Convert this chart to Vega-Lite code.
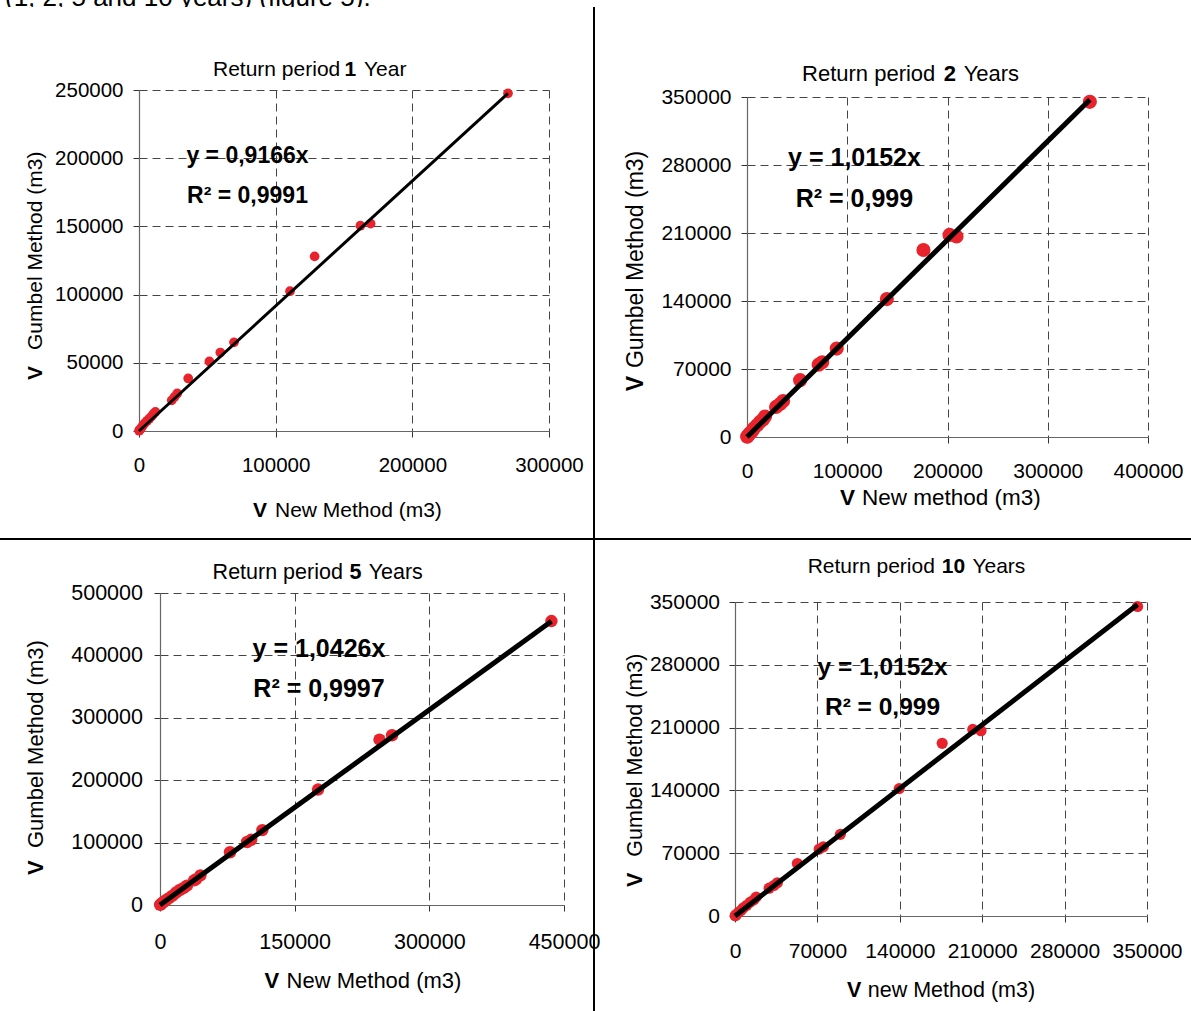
{
  "$schema": "https://vega.github.io/schema/vega-lite/v6.json",
  "padding": 0,
  "background": "white",
  "config": {
    "view": {"stroke": null},
    "font": "Liberation Sans",
    "axis": {"labelFont": "Liberation Sans", "labelColor": "#000", "tickColor": "#333", "tickWidth": 1, "domainColor": "#666", "domainWidth": 1.2, "gridColor": "#444", "gridDash": [8, 5], "gridWidth": 1, "labelFlush": false, "labelOverlap": false, "grid": true, "tickSize": 6}
  },
  "datasets": {
    "p1": [{"x":270000,"y":247500},{"x":169500,"y":152000},{"x":162000,"y":150500},{"x":128500,"y":128000},{"x":110500,"y":102500},{"x":69500,"y":65000},{"x":59500,"y":57500},{"x":51500,"y":51000},{"x":36000,"y":38500},{"x":28000,"y":27500},{"x":26000,"y":25000},{"x":24000,"y":22500},{"x":12000,"y":14000},{"x":10500,"y":12500},{"x":9000,"y":10500},{"x":7500,"y":9000},{"x":6000,"y":7500},{"x":4000,"y":5500},{"x":2500,"y":3500},{"x":1500,"y":2000},{"x":800,"y":1000},{"x":300,"y":500},{"x":100,"y":200}],
    "p2": [{"x":342000,"y":345000},{"x":209000,"y":206500},{"x":202000,"y":208000},{"x":176000,"y":192500},{"x":139500,"y":142000},{"x":89500,"y":91000},{"x":75000,"y":77000},{"x":71500,"y":74500},{"x":53000,"y":58500},{"x":36000,"y":37000},{"x":33000,"y":34000},{"x":29000,"y":31000},{"x":18000,"y":21000},{"x":16000,"y":18000},{"x":13000,"y":15500},{"x":10000,"y":12000},{"x":7000,"y":9000},{"x":5000,"y":6000},{"x":3000,"y":4000},{"x":1500,"y":2000},{"x":500,"y":800},{"x":200,"y":300}],
    "p3": [{"x":436000,"y":455000},{"x":258500,"y":272000},{"x":244500,"y":265000},{"x":176000,"y":185000},{"x":114000,"y":120000},{"x":101500,"y":104500},{"x":97000,"y":101000},{"x":78000,"y":84500},{"x":45000,"y":47500},{"x":40000,"y":41000},{"x":38000,"y":39500},{"x":30000,"y":31000},{"x":26000,"y":27000},{"x":22000,"y":24000},{"x":18000,"y":20000},{"x":14000,"y":15000},{"x":10000,"y":11000},{"x":7000,"y":8000},{"x":4000,"y":5000},{"x":2000,"y":2500},{"x":800,"y":1000},{"x":200,"y":300}]
  },
  "spacing": 0,
  "bounds": "flush",
  "vconcat": [
    {
      "width": 1191, "height": 7,
      "data": {"values": [{"t": "(1, 2, 5 and 10 years) (figure 5)."}]},
      "mark": {"type": "text", "clip": true, "align": "left", "baseline": "alphabetic", "fontSize": 26},
      "encoding": {
        "text": {"field": "t"},
        "x": {"datum": 5, "type": "quantitative", "scale": {"domain": [0, 1191], "nice": false}, "axis": null},
        "y": {"datum": 1, "type": "quantitative", "scale": {"domain": [0, 7], "nice": false}, "axis": null}
      }
    },
    {
      "spacing": 0, "bounds": "flush",
      "vconcat": [
        {"width": 1, "height": 83, "data": {"values": []}, "mark": {"type": "point", "opacity": 0}},
        {
          "spacing": 0, "bounds": "flush",
          "hconcat": [
            {"width": 139, "height": 1, "data": {"values": []}, "mark": {"type": "point", "opacity": 0}},
            {
              "width": 410, "height": 341,
              "layer": [
                {"data": {"name": "p1"}, "mark": {"type": "circle", "size": 95, "color": "#e8232b", "opacity": 1},
                 "encoding": {
                   "x": {"field": "x", "type": "quantitative", "title": null, "scale": {"domain": [0, 300000], "nice": false, "zero": false},
                         "axis": {"title": null, "values": [0, 100000, 200000, 300000], "format": "d", "labelFontSize": 20.5, "labelPadding": 18.5}},
                   "y": {"field": "y", "type": "quantitative", "title": null, "scale": {"domain": [0, 250000], "nice": false, "zero": false},
                         "axis": {"title": null, "values": [0, 50000, 100000, 150000, 200000, 250000], "format": "d", "labelFontSize": 20.5, "labelPadding": 10}}
                 }},
                {"data": {"values": [{"x": 0, "y": 0}, {"x": 270000, "y": 247500}]}, "mark": {"type": "line", "color": "black", "strokeWidth": 3},
                 "encoding": {"x": {"field": "x", "type": "quantitative", "title": null}, "y": {"field": "y", "type": "quantitative", "title": null}}},
                {"data": {"values": [{"t": "y = 0,9166x\nR² = 0,9991"}]}, "mark": {"type": "text", "lineBreak": "\n", "fontSize": 23, "fontWeight": "bold", "align": "center", "baseline": "alphabetic", "lineHeight": 40},
                 "encoding": {"text": {"field": "t"}, "x": {"datum": 79400, "type": "quantitative", "title": null}, "y": {"datum": 196500, "type": "quantitative", "title": null}}},
                {"data": {"values": [{"t": "Return period"}]}, "mark": {"type": "text", "align": "left", "baseline": "alphabetic", "fontSize": 21},
                 "encoding": {"text": {"field": "t"}, "x": {"datum": 54150, "type": "quantitative", "title": null}, "y": {"datum": 260250, "type": "quantitative", "title": null}}},
                {"data": {"values": [{"t": "1"}]}, "mark": {"type": "text", "align": "left", "baseline": "alphabetic", "fontSize": 21, "fontWeight": "bold"},
                 "encoding": {"text": {"field": "t"}, "x": {"datum": 150400, "type": "quantitative", "title": null}, "y": {"datum": 260250, "type": "quantitative", "title": null}}},
                {"data": {"values": [{"t": "Year"}]}, "mark": {"type": "text", "align": "left", "baseline": "alphabetic", "fontSize": 21},
                 "encoding": {"text": {"field": "t"}, "x": {"datum": 164600, "type": "quantitative", "title": null}, "y": {"datum": 260250, "type": "quantitative", "title": null}}},
                {"data": {"values": [{"t": "V"}]}, "mark": {"type": "text", "align": "left", "baseline": "alphabetic", "fontSize": 21, "fontWeight": "bold"},
                 "encoding": {"text": {"field": "t"}, "x": {"datum": 83400, "type": "quantitative", "title": null}, "y": {"datum": -63050, "type": "quantitative", "title": null}}},
                {"data": {"values": [{"t": "New Method (m3)"}]}, "mark": {"type": "text", "align": "left", "baseline": "alphabetic", "fontSize": 21},
                 "encoding": {"text": {"field": "t"}, "x": {"datum": 99500, "type": "quantitative", "title": null}, "y": {"datum": -63050, "type": "quantitative", "title": null}}},
                {"data": {"values": [{"t": "V"}]}, "mark": {"type": "text", "align": "left", "baseline": "alphabetic", "fontSize": 21, "fontWeight": "bold", "angle": 270},
                 "encoding": {"text": {"field": "t"}, "x": {"datum": -71000, "type": "quantitative", "title": null}, "y": {"datum": 37400, "type": "quantitative", "title": null}}},
                {"data": {"values": [{"t": "Gumbel Method (m3)"}]}, "mark": {"type": "text", "align": "left", "baseline": "alphabetic", "fontSize": 21, "angle": 270},
                 "encoding": {"text": {"field": "t"}, "x": {"datum": -71000, "type": "quantitative", "title": null}, "y": {"datum": 59400, "type": "quantitative", "title": null}}}
              ]
            }
          ]
        }
      ]
    },
    {
      "spacing": 0, "bounds": "flush",
      "vconcat": [
        {"width": 1, "height": 90, "data": {"values": []}, "mark": {"type": "point", "opacity": 0}},
        {
          "spacing": 0, "bounds": "flush",
          "hconcat": [
            {"width": 747, "height": 1, "data": {"values": []}, "mark": {"type": "point", "opacity": 0}},
            {
              "width": 401, "height": 340,
              "layer": [
                {"data": {"name": "p2"}, "mark": {"type": "circle", "size": 200, "color": "#e8232b", "opacity": 1},
                 "encoding": {
                   "x": {"field": "x", "type": "quantitative", "title": null, "scale": {"domain": [0, 400000], "nice": false, "zero": false},
                         "axis": {"title": null, "values": [0, 100000, 200000, 300000, 400000], "format": "d", "labelFontSize": 21, "labelPadding": 17.5}},
                   "y": {"field": "y", "type": "quantitative", "title": null, "scale": {"domain": [0, 350000], "nice": false, "zero": false},
                         "axis": {"title": null, "values": [0, 70000, 140000, 210000, 280000, 350000], "format": "d", "labelFontSize": 21, "labelPadding": 10}}
                 }},
                {"data": {"values": [{"x": 0, "y": 0}, {"x": 342000, "y": 347200}]}, "mark": {"type": "line", "color": "black", "strokeWidth": 5},
                 "encoding": {"x": {"field": "x", "type": "quantitative", "title": null}, "y": {"field": "y", "type": "quantitative", "title": null}}},
                {"data": {"values": [{"t": "y = 1,0152x\nR² = 0,999"}]}, "mark": {"type": "text", "lineBreak": "\n", "fontSize": 25, "fontWeight": "bold", "align": "center", "baseline": "alphabetic", "lineHeight": 41},
                 "encoding": {"text": {"field": "t"}, "x": {"datum": 107200, "type": "quantitative", "title": null}, "y": {"datum": 279000, "type": "quantitative", "title": null}}},
                {"data": {"values": [{"t": "Return period"}]}, "mark": {"type": "text", "align": "left", "baseline": "alphabetic", "fontSize": 22},
                 "encoding": {"text": {"field": "t"}, "x": {"datum": 54900, "type": "quantitative", "title": null}, "y": {"datum": 366000, "type": "quantitative", "title": null}}},
                {"data": {"values": [{"t": "2"}]}, "mark": {"type": "text", "align": "left", "baseline": "alphabetic", "fontSize": 22, "fontWeight": "bold"},
                 "encoding": {"text": {"field": "t"}, "x": {"datum": 196200, "type": "quantitative", "title": null}, "y": {"datum": 366000, "type": "quantitative", "title": null}}},
                {"data": {"values": [{"t": "Years"}]}, "mark": {"type": "text", "align": "left", "baseline": "alphabetic", "fontSize": 22},
                 "encoding": {"text": {"field": "t"}, "x": {"datum": 216100, "type": "quantitative", "title": null}, "y": {"datum": 366000, "type": "quantitative", "title": null}}},
                {"data": {"values": [{"t": "V"}]}, "mark": {"type": "text", "align": "left", "baseline": "alphabetic", "fontSize": 22.5, "fontWeight": "bold"},
                 "encoding": {"text": {"field": "t"}, "x": {"datum": 92800, "type": "quantitative", "title": null}, "y": {"datum": -70000, "type": "quantitative", "title": null}}},
                {"data": {"values": [{"t": "New method (m3)"}]}, "mark": {"type": "text", "align": "left", "baseline": "alphabetic", "fontSize": 22.5},
                 "encoding": {"text": {"field": "t"}, "x": {"datum": 114700, "type": "quantitative", "title": null}, "y": {"datum": -70000, "type": "quantitative", "title": null}}},
                {"data": {"values": [{"t": "V"}]}, "mark": {"type": "text", "align": "left", "baseline": "alphabetic", "fontSize": 23, "fontWeight": "bold", "angle": 270},
                 "encoding": {"text": {"field": "t"}, "x": {"datum": -103700, "type": "quantitative", "title": null}, "y": {"datum": 47000, "type": "quantitative", "title": null}}},
                {"data": {"values": [{"t": "Gumbel Method (m3)"}]}, "mark": {"type": "text", "align": "left", "baseline": "alphabetic", "fontSize": 23, "angle": 270},
                 "encoding": {"text": {"field": "t"}, "x": {"datum": -103700, "type": "quantitative", "title": null}, "y": {"datum": 71000, "type": "quantitative", "title": null}}}
              ]
            }
          ]
        }
      ]
    },
    {
      "spacing": 0, "bounds": "flush",
      "vconcat": [
        {"width": 1, "height": 586, "data": {"values": []}, "mark": {"type": "point", "opacity": 0}},
        {
          "spacing": 0, "bounds": "flush",
          "hconcat": [
            {"width": 160, "height": 1, "data": {"values": []}, "mark": {"type": "point", "opacity": 0}},
            {
              "width": 404, "height": 312,
              "layer": [
                {"data": {"name": "p3"}, "mark": {"type": "circle", "size": 155, "color": "#e8232b", "opacity": 1},
                 "encoding": {
                   "x": {"field": "x", "type": "quantitative", "title": null, "scale": {"domain": [0, 450000], "nice": false, "zero": false},
                         "axis": {"title": null, "values": [0, 150000, 300000, 450000], "format": "d", "labelFontSize": 21.5, "labelPadding": 20.4}},
                   "y": {"field": "y", "type": "quantitative", "title": null, "scale": {"domain": [0, 500000], "nice": false, "zero": false},
                         "axis": {"title": null, "values": [0, 100000, 200000, 300000, 400000, 500000], "format": "d", "labelFontSize": 21.5, "labelPadding": 11.5}}
                 }},
                {"data": {"values": [{"x": 0, "y": 0}, {"x": 436000, "y": 454600}]}, "mark": {"type": "line", "color": "black", "strokeWidth": 5},
                 "encoding": {"x": {"field": "x", "type": "quantitative", "title": null}, "y": {"field": "y", "type": "quantitative", "title": null}}},
                {"data": {"values": [{"t": "y = 1,0426x\nR² = 0,9997"}]}, "mark": {"type": "text", "lineBreak": "\n", "fontSize": 25, "fontWeight": "bold", "align": "center", "baseline": "alphabetic", "lineHeight": 40},
                 "encoding": {"text": {"field": "t"}, "x": {"datum": 177100, "type": "quantitative", "title": null}, "y": {"datum": 397400, "type": "quantitative", "title": null}}},
                {"data": {"values": [{"t": "Return period"}]}, "mark": {"type": "text", "align": "left", "baseline": "alphabetic", "fontSize": 21.5},
                 "encoding": {"text": {"field": "t"}, "x": {"datum": 58600, "type": "quantitative", "title": null}, "y": {"datum": 522400, "type": "quantitative", "title": null}}},
                {"data": {"values": [{"t": "5"}]}, "mark": {"type": "text", "align": "left", "baseline": "alphabetic", "fontSize": 21.5, "fontWeight": "bold"},
                 "encoding": {"text": {"field": "t"}, "x": {"datum": 211000, "type": "quantitative", "title": null}, "y": {"datum": 522400, "type": "quantitative", "title": null}}},
                {"data": {"values": [{"t": "Years"}]}, "mark": {"type": "text", "align": "left", "baseline": "alphabetic", "fontSize": 21.5},
                 "encoding": {"text": {"field": "t"}, "x": {"datum": 232400, "type": "quantitative", "title": null}, "y": {"datum": 522400, "type": "quantitative", "title": null}}},
                {"data": {"values": [{"t": "V"}]}, "mark": {"type": "text", "align": "left", "baseline": "alphabetic", "fontSize": 22, "fontWeight": "bold"},
                 "encoding": {"text": {"field": "t"}, "x": {"datum": 116300, "type": "quantitative", "title": null}, "y": {"datum": -133000, "type": "quantitative", "title": null}}},
                {"data": {"values": [{"t": "New Method (m3)"}]}, "mark": {"type": "text", "align": "left", "baseline": "alphabetic", "fontSize": 22},
                 "encoding": {"text": {"field": "t"}, "x": {"datum": 141000, "type": "quantitative", "title": null}, "y": {"datum": -133000, "type": "quantitative", "title": null}}},
                {"data": {"values": [{"t": "V"}]}, "mark": {"type": "text", "align": "left", "baseline": "alphabetic", "fontSize": 22, "fontWeight": "bold", "angle": 270},
                 "encoding": {"text": {"field": "t"}, "x": {"datum": -130300, "type": "quantitative", "title": null}, "y": {"datum": 48100, "type": "quantitative", "title": null}}},
                {"data": {"values": [{"t": "Gumbel Method (m3)"}]}, "mark": {"type": "text", "align": "left", "baseline": "alphabetic", "fontSize": 22, "angle": 270},
                 "encoding": {"text": {"field": "t"}, "x": {"datum": -130300, "type": "quantitative", "title": null}, "y": {"datum": 91300, "type": "quantitative", "title": null}}}
              ]
            }
          ]
        }
      ]
    },
    {
      "spacing": 0, "bounds": "flush",
      "vconcat": [
        {"width": 1, "height": 595, "data": {"values": []}, "mark": {"type": "point", "opacity": 0}},
        {
          "spacing": 0, "bounds": "flush",
          "hconcat": [
            {"width": 735, "height": 1, "data": {"values": []}, "mark": {"type": "point", "opacity": 0}},
            {
              "width": 412, "height": 314,
              "layer": [
                {"data": {"name": "p2"}, "mark": {"type": "circle", "size": 125, "color": "#e8232b", "opacity": 1},
                 "encoding": {
                   "x": {"field": "x", "type": "quantitative", "title": null, "scale": {"domain": [0, 350000], "nice": false, "zero": false},
                         "axis": {"title": null, "values": [0, 70000, 140000, 210000, 280000, 350000], "format": "d", "labelFontSize": 21, "labelPadding": 18.5}},
                   "y": {"field": "y", "type": "quantitative", "title": null, "scale": {"domain": [0, 350000], "nice": false, "zero": false},
                         "axis": {"title": null, "values": [0, 70000, 140000, 210000, 280000, 350000], "format": "d", "labelFontSize": 21, "labelPadding": 9.5}}
                 }},
                {"data": {"values": [{"x": 0, "y": 0}, {"x": 342000, "y": 347200}]}, "mark": {"type": "line", "color": "black", "strokeWidth": 5},
                 "encoding": {"x": {"field": "x", "type": "quantitative", "title": null}, "y": {"field": "y", "type": "quantitative", "title": null}}},
                {"data": {"values": [{"t": "y = 1,0152x\nR² = 0,999"}]}, "mark": {"type": "text", "lineBreak": "\n", "fontSize": 24.5, "fontWeight": "bold", "align": "center", "baseline": "alphabetic", "lineHeight": 40},
                 "encoding": {"text": {"field": "t"}, "x": {"datum": 125300, "type": "quantitative", "title": null}, "y": {"datum": 268600, "type": "quantitative", "title": null}}},
                {"data": {"values": [{"t": "Return period"}]}, "mark": {"type": "text", "align": "left", "baseline": "alphabetic", "fontSize": 21},
                 "encoding": {"text": {"field": "t"}, "x": {"datum": 61700, "type": "quantitative", "title": null}, "y": {"datum": 382300, "type": "quantitative", "title": null}}},
                {"data": {"values": [{"t": "10"}]}, "mark": {"type": "text", "align": "left", "baseline": "alphabetic", "fontSize": 21, "fontWeight": "bold"},
                 "encoding": {"text": {"field": "t"}, "x": {"datum": 175600, "type": "quantitative", "title": null}, "y": {"datum": 382300, "type": "quantitative", "title": null}}},
                {"data": {"values": [{"t": "Years"}]}, "mark": {"type": "text", "align": "left", "baseline": "alphabetic", "fontSize": 21},
                 "encoding": {"text": {"field": "t"}, "x": {"datum": 201700, "type": "quantitative", "title": null}, "y": {"datum": 382300, "type": "quantitative", "title": null}}},
                {"data": {"values": [{"t": "V"}]}, "mark": {"type": "text", "align": "left", "baseline": "alphabetic", "fontSize": 21.5, "fontWeight": "bold"},
                 "encoding": {"text": {"field": "t"}, "x": {"datum": 95100, "type": "quantitative", "title": null}, "y": {"datum": -90300, "type": "quantitative", "title": null}}},
                {"data": {"values": [{"t": "new Method (m3)"}]}, "mark": {"type": "text", "align": "left", "baseline": "alphabetic", "fontSize": 21.5},
                 "encoding": {"text": {"field": "t"}, "x": {"datum": 112800, "type": "quantitative", "title": null}, "y": {"datum": -90300, "type": "quantitative", "title": null}}},
                {"data": {"values": [{"t": "V"}]}, "mark": {"type": "text", "align": "left", "baseline": "alphabetic", "fontSize": 21.5, "fontWeight": "bold", "angle": 270},
                 "encoding": {"text": {"field": "t"}, "x": {"datum": -79000, "type": "quantitative", "title": null}, "y": {"datum": 32300, "type": "quantitative", "title": null}}},
                {"data": {"values": [{"t": "Gumbel Method (m3)"}]}, "mark": {"type": "text", "align": "left", "baseline": "alphabetic", "fontSize": 21.5, "angle": 270},
                 "encoding": {"text": {"field": "t"}, "x": {"datum": -79000, "type": "quantitative", "title": null}, "y": {"datum": 66100, "type": "quantitative", "title": null}}}
              ]
            }
          ]
        }
      ]
    },
    {
      "spacing": 0, "bounds": "flush",
      "hconcat": [
        {"width": 593, "height": 1, "data": {"values": []}, "mark": {"type": "point", "opacity": 0}},
        {"width": 2, "height": 1004, "data": {"values": []}, "mark": {"type": "point", "opacity": 0}, "view": {"fill": "black", "stroke": null}}
      ]
    },
    {
      "spacing": 0, "bounds": "flush",
      "vconcat": [
        {"width": 1, "height": 531, "data": {"values": []}, "mark": {"type": "point", "opacity": 0}},
        {"width": 1191, "height": 2, "data": {"values": []}, "mark": {"type": "point", "opacity": 0}, "view": {"fill": "black", "stroke": null}}
      ]
    }
  ]
}
